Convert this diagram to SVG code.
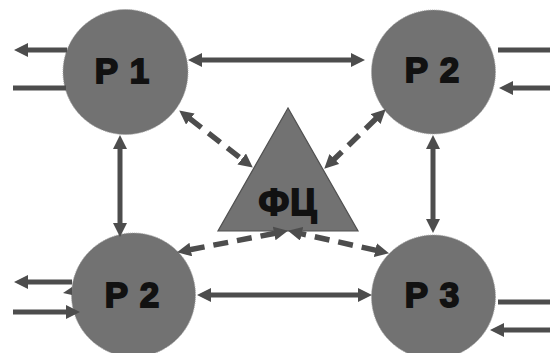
<svg xmlns="http://www.w3.org/2000/svg" width="550" height="353" viewBox="0 0 550 353">
<style>
.node{fill:#727272;stroke:#a0a0a0;stroke-width:1;stroke-dasharray:1 1}
.tri{fill:#727272;stroke:#505050;stroke-width:1.2}
.lbl{font-family:"Liberation Sans",Arial,sans-serif;font-weight:bold;font-size:35px;fill:#111;stroke:#111;stroke-width:1.8;text-anchor:middle;letter-spacing:1px}
.c{stroke:#4d4d4d;stroke-width:5;fill:none}
.d{stroke-dasharray:15 9;stroke-width:5.5}
</style>
<defs>
<marker id="ah" markerUnits="userSpaceOnUse" markerWidth="15" markerHeight="15" refX="1" refY="7" orient="auto-start-reverse" viewBox="0 0 15 15">
<path d="M0,0 L14,7 L0,14 z" fill="#4d4d4d"/>
</marker>
</defs>
<rect width="550" height="353" fill="#ffffff"/>
<g id="n-p1"><circle class="node" cx="125.5" cy="72" r="62.5"/><text class="lbl" x="122.5" y="83">Р 1</text></g>
<g id="n-p2"><circle class="node" cx="433.5" cy="72" r="62"/><text class="lbl" x="432.5" y="82">Р 2</text></g>
<g id="n-p2b"><circle class="node" cx="133.5" cy="295" r="62"/><text class="lbl" x="132.5" y="307">Р 2</text></g>
<g id="n-p3"><circle class="node" cx="433.5" cy="297" r="62"/><text class="lbl" x="432.5" y="307">Р 3</text></g>
<g id="n-fc"><polygon class="tri" points="288,108 218,231 358,231"/><text class="lbl" x="288" y="215" style="font-size:36px">ФЦ</text></g>
<g id="connectors">
<line class="c" x1="201" y1="60" x2="352" y2="60" marker-start="url(#ah)" marker-end="url(#ah)"/>
<line class="c" x1="120" y1="148" x2="120" y2="224" marker-start="url(#ah)" marker-end="url(#ah)"/>
<line class="c" x1="433" y1="148" x2="433" y2="220" marker-start="url(#ah)" marker-end="url(#ah)"/>
<line class="c" x1="210" y1="295" x2="359" y2="295" marker-start="url(#ah)" marker-end="url(#ah)"/>
<line class="c" x1="67" y1="50" x2="27" y2="50" marker-end="url(#ah)"/>
<line class="c" x1="13" y1="88" x2="66" y2="88"/>
<line class="c" x1="498" y1="50" x2="550" y2="50"/>
<line class="c" x1="550" y1="88" x2="512" y2="88" marker-end="url(#ah)"/>
<line class="c" x1="72" y1="282" x2="27" y2="282" marker-end="url(#ah)"/>
<polygon points="72,287 72,295 63,293" fill="#4d4d4d"/>
<line class="c" x1="13" y1="312" x2="67" y2="312" marker-end="url(#ah)"/>
<line class="c" x1="498" y1="302" x2="550" y2="302"/>
<line class="c" x1="550" y1="330" x2="503" y2="330" marker-end="url(#ah)"/>
<line class="c d" x1="189.5" y1="118.4" x2="242.5" y2="159.6" marker-start="url(#ah)" marker-end="url(#ah)"/>
<line class="c d" x1="376.4" y1="118.3" x2="333.6" y2="159.7" marker-start="url(#ah)" marker-end="url(#ah)"/>
<line class="c d" x1="189.8" y1="249.7" x2="275.2" y2="233.3" marker-start="url(#ah)" marker-end="url(#ah)"/>
<line class="c d" x1="376.3" y1="250.4" x2="300.7" y2="233.6" marker-start="url(#ah)" marker-end="url(#ah)"/>
</g>
</svg>
